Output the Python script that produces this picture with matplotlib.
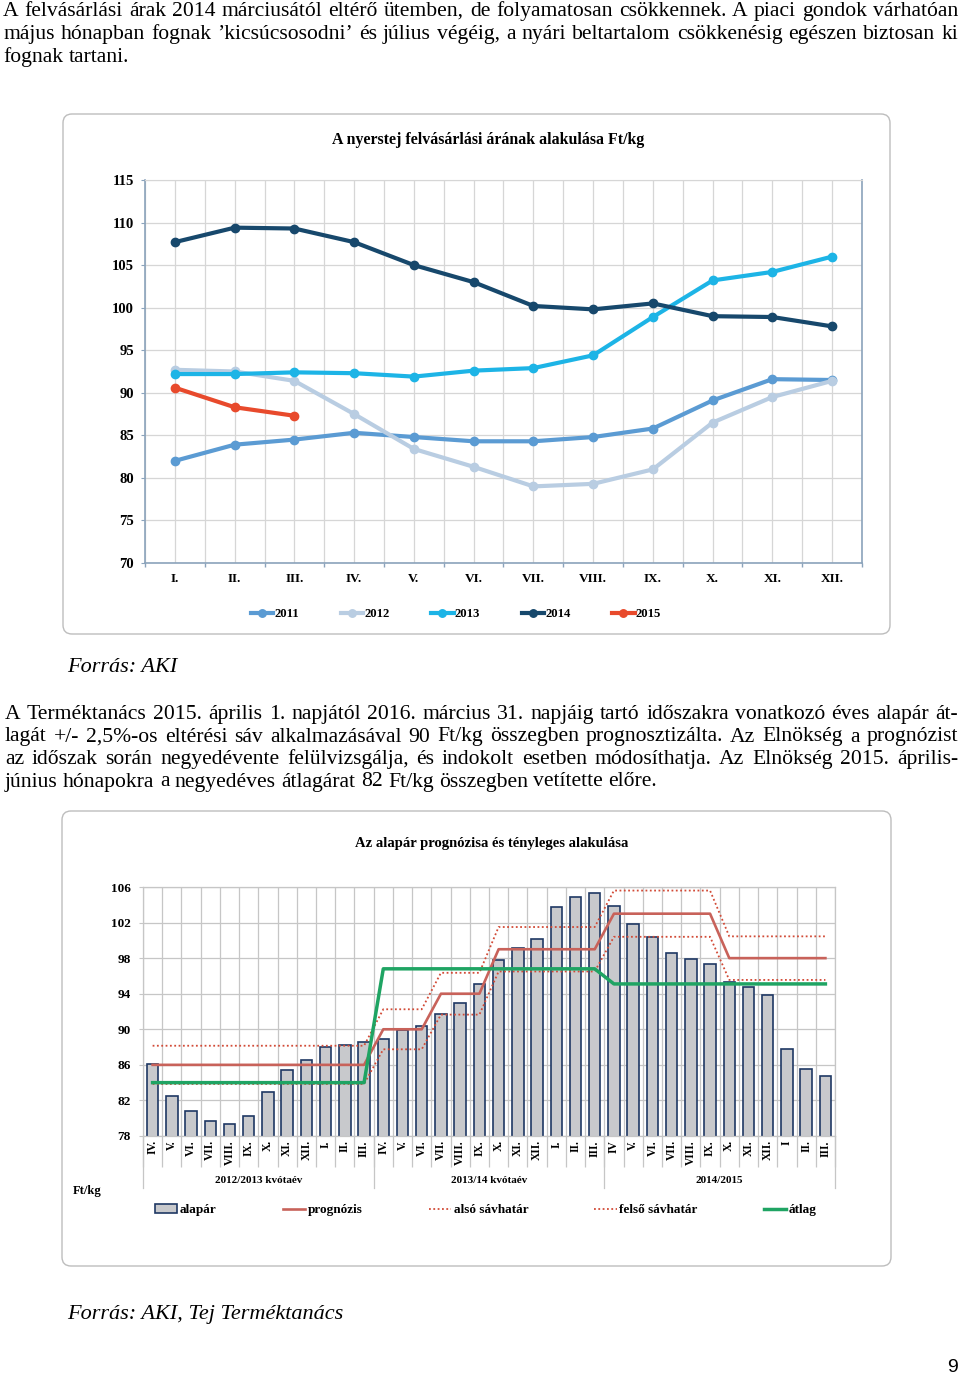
import numpy as np
import matplotlib
matplotlib.use('Agg')
import matplotlib.pyplot as plt
from matplotlib.patches import FancyBboxPatch
from matplotlib.transforms import IdentityTransform

plt.rcParams['font.family'] = ['Liberation Serif', 'DejaVu Serif']

# ---- chart 1: nyerstej felvásárlási ár, Ft/kg
months1 = ['I.', 'II.', 'III.', 'IV.', 'V.', 'VI.', 'VII.', 'VIII.', 'IX.', 'X.', 'XI.', 'XII.']
p2011 = [82.0, 83.9, 84.5, 85.3, 84.8, 84.3, 84.3, 84.8, 85.8, 89.1, 91.6, 91.5]
p2012 = [92.7, 92.5, 91.4, 87.5, 83.4, 81.3, 79.0, 79.3, 81.0, 86.5, 89.5, 91.4]
p2013 = [92.2, 92.2, 92.4, 92.3, 91.9, 92.6, 92.9, 94.4, 98.9, 103.2, 104.2, 106.0]
p2014 = [107.7, 109.4, 109.3, 107.7, 105.0, 103.0, 100.2, 99.8, 100.5, 99.0, 98.9, 97.8]
p2015 = [90.6, 88.3, 87.3]
years = ['2011', '2012', '2013', '2014', '2015']

# ---- chart 2: alapár prognózisa
months2 = ['IV.', 'V.', 'VI.', 'VII.', 'VIII.', 'IX.', 'X.', 'XI.', 'XII.', 'I.', 'II.', 'III.',
           'IV.', 'V.', 'VI.', 'VII.', 'VIII.', 'IX.', 'X.', 'XI.', 'XII.', 'I.', 'II.', 'III.',
           'IV', 'V.', 'VI.', 'VII.', 'VIII.', 'IX.', 'X.', 'XI.', 'XII.', 'I', 'II.', 'III.']
groups = ['2012/2013 kvótaév', '2013/14 kvótaév', '2014/2015']
group_sizes = [12, 12, 12]
alapar = [86.1, 82.5, 80.8, 79.7, 79.4, 80.2, 82.9, 85.4, 86.5, 88.0, 88.2, 88.6,
          88.9, 89.9, 90.4, 91.7, 93.0, 95.1, 97.8, 99.1, 100.2, 103.8, 104.9, 105.3,
          103.9, 101.8, 100.4, 98.6, 97.9, 97.3, 95.3, 94.7, 93.8, 87.8, 85.5, 84.7]
prognozis = [86, 86, 86, 86, 86, 86, 86, 86, 86, 86, 86, 86,
             90, 90, 90, 94, 94, 94, 99, 99, 99, 99, 99, 99,
             103, 103, 103, 103, 103, 103, 98, 98, 98, 98, 98, 98]
also_sav = [83.85, 83.85, 83.85, 83.85, 83.85, 83.85, 83.85, 83.85, 83.85, 83.85, 83.85, 83.85,
            87.75, 87.75, 87.75, 91.65, 91.65, 91.65, 96.5, 96.5, 96.5, 96.5, 96.5, 96.5,
            100.4, 100.4, 100.4, 100.4, 100.4, 100.4, 95.55, 95.55, 95.55, 95.55, 95.55, 95.55]
felso_sav = [88.15, 88.15, 88.15, 88.15, 88.15, 88.15, 88.15, 88.15, 88.15, 88.15, 88.15, 88.15,
             92.25, 92.25, 92.25, 96.35, 96.35, 96.35, 101.5, 101.5, 101.5, 101.5, 101.5, 101.5,
             105.6, 105.6, 105.6, 105.6, 105.6, 105.6, 100.45, 100.45, 100.45, 100.45, 100.45, 100.45]
atlag = [84, 84, 84, 84, 84, 84, 84, 84, 84, 84, 84, 84,
         96.8, 96.8, 96.8, 96.8, 96.8, 96.8, 96.8, 96.8, 96.8, 96.8, 96.8, 96.8,
         95.1, 95.1, 95.1, 95.1, 95.1, 95.1, 95.1, 95.1, 95.1, 95.1, 95.1, 95.1]

para1 = ['A felvásárlási árak 2014 márciusától eltérő ütemben, de folyamatosan csökkennek. A piaci gondok várhatóan',
         'május hónapban fognak ’kicsúcsosodni’ és július végéig, a nyári beltartalom csökkenésig egészen biztosan ki',
         'fognak tartani.']
para2 = ['A Terméktanács 2015. április 1. napjától 2016. március 31. napjáig tartó időszakra vonatkozó éves alapár át-',
         'lagát +/- 2,5%-os eltérési sáv alkalmazásával 90 Ft/kg összegben prognosztizálta. Az Elnökség a prognózist',
         'az időszak során negyedévente felülvizsgálja, és indokolt esetben módosíthatja. Az Elnökség 2015. április-',
         'június hónapokra a negyedéves átlagárat 82 Ft/kg összegben vetítette előre.']

W, H = 960, 1378
fig = plt.figure(figsize=(W / 100, H / 100), dpi=100)
fig.patch.set_facecolor('white')


def fx(x):
    return x / W


def fy(y):
    return 1 - y / H


def frame(x0, y0, x1, y1):
    p = FancyBboxPatch((x0, H - y1), x1 - x0, y1 - y0, boxstyle='round,pad=0,rounding_size=9',
                       transform=IdentityTransform(), fc='white', ec='#bdbdbd', lw=1.0, zorder=-5)
    fig.add_artist(p)


def justify(lines, x0, x1, base0, dy, size):
    r = fig.canvas.get_renderer()
    space = size * 100 / 72 * 0.25
    for i, line in enumerate(lines):
        words = line.split(' ')
        ts = [fig.text(0, fy(base0 + i * dy), w, fontsize=size, va='baseline', ha='left') for w in words]
        ws = [t.get_window_extent(r).width for t in ts]
        if i == len(lines) - 1:
            gap = space
        else:
            gap = (x1 - x0 - sum(ws)) / (len(words) - 1)
        x = x0
        for t, w in zip(ts, ws):
            t.set_x(fx(x))
            x += w + gap


justify(para1, 3, 958, 16, 23, 15.6)
justify(para2, 5, 958, 719, 22.5, 15.6)

# ---------------- chart 1
frame(63, 114, 890, 634)
fig.text(fx(488), fy(140), 'A nyerstej felvásárlási árának alakulása Ft/kg', ha='center', va='center',
         fontsize=11.4, fontweight='bold')
axis_c = '#8ba3bb'
ax1 = fig.add_axes([fx(145), fy(563), (862 - 145) / W, (563 - 180) / H])
x1 = np.arange(len(months1))
colors = ['#5b9bd3', '#b9cde2', '#1db4e6', '#17486c', '#e84a2c']
for name, vals, c in zip(years, [p2011, p2012, p2013, p2014, p2015], colors):
    ax1.plot(x1[:len(vals)], vals, color=c, lw=3, marker='o', ms=6, label=name)
ax1.set_xlim(-0.5, 11.5)
ax1.set_ylim(70, 115)
ax1.set_yticks(np.arange(70, 116, 5))
ax1.set_xticks(x1)
ax1.set_xticklabels(months1)
ax1.set_xticks(np.arange(-0.5, 12, 1), minor=True)
ax1.set_axisbelow(True)
ax1.grid(which='both', color='#d6d6d6', lw=0.9)
ax1.tick_params(axis='x', which='major', length=0, pad=7, labelsize=9.5)
ax1.tick_params(axis='x', which='minor', length=3, color=axis_c, width=1)
ax1.tick_params(axis='y', length=3, color=axis_c, pad=5, labelsize=10.5)
for t in ax1.get_xticklabels() + ax1.get_yticklabels():
    t.set_fontweight('bold')
for s in ['left', 'bottom', 'right']:
    ax1.spines[s].set_color(axis_c)
    ax1.spines[s].set_linewidth(1.2)
ax1.spines['top'].set_color('#d6d6d6')
ax1.legend(loc='center left', bbox_to_anchor=(fx(251), fy(614)), bbox_transform=fig.transFigure,
           ncol=5, frameon=False, prop={'weight': 'bold', 'size': 9.2}, handlelength=1.75,
           handletextpad=0.1, columnspacing=3.25, borderaxespad=0, borderpad=0, markerscale=0.9)

fig.text(fx(67), fy(668), 'Forrás: AKI', fontsize=16, style='italic', va='center', ha='left')

# ---------------- chart 2
frame(62, 811, 891, 1266)
fig.text(fx(492), fy(843), 'Az alapár prognózisa és tényleges alakulása', ha='center', va='center',
         fontsize=10.5, fontweight='bold')
grid_c = '#c6c6c6'
ax2 = fig.add_axes([fx(143), fy(1136), (835 - 143) / W, (1136 - 887) / H])
x2 = np.arange(len(months2))
ax2.bar(x2, alapar, width=0.6, color='#c8c9cc', edgecolor='#1f3864', lw=1.2, label='alapár', zorder=2)
ax2.plot(x2, prognozis, color='#c8625a', lw=1.9, label='prognózis', zorder=3)
ax2.plot(x2, also_sav, color='#d24b37', lw=1.3, ls=(0, (1, 1.4)), label='alsó sávhatár', zorder=3)
ax2.plot(x2, felso_sav, color='#d24b37', lw=1.3, ls=(0, (1, 1.4)), label='felső sávhatár', zorder=3)
ax2.plot(x2, atlag, color='#1fa463', lw=2.5, label='átlag', zorder=4)
ax2.set_xlim(-0.5, len(months2) - 0.5)
ax2.set_ylim(78, 106)
ax2.set_yticks(np.arange(78, 107, 4))
ax2.set_xticks(x2)
ax2.set_xticklabels(months2, rotation=90, va='top', ha='center')
ax2.set_xticks(np.arange(-0.5, len(months2), 1), minor=True)
ax2.set_axisbelow(True)
ax2.grid(axis='y', which='major', color=grid_c, lw=0.9, zorder=0)
ax2.grid(axis='x', which='minor', color=grid_c, lw=0.9, zorder=0)
ax2.tick_params(axis='x', which='major', length=0, pad=3, labelsize=8.3)
ax2.tick_params(axis='x', which='minor', length=22, color=grid_c, width=0.9)
ax2.tick_params(axis='y', length=3, color=grid_c, pad=6, labelsize=9.5)
for t in ax2.get_xticklabels() + ax2.get_yticklabels():
    t.set_fontweight('bold')
for s in ax2.spines.values():
    s.set_color(grid_c)
    s.set_linewidth(0.9)

bounds = np.cumsum([0] + group_sizes) - 0.5
xt = ax2.get_xaxis_transform()
for b in bounds:
    ax2.plot([b, b], [0, -0.21], transform=xt, color=grid_c, lw=0.9, clip_on=False)
for g, a, b in zip(groups, bounds[:-1], bounds[1:]):
    ax2.text((a + b) / 2, -0.18, g, transform=xt, ha='center', va='center', fontsize=8, fontweight='bold')
fig.text(fx(73), fy(1191), 'Ft/kg', fontsize=9, fontweight='bold', va='center', ha='left')

h, l = ax2.get_legend_handles_labels()
order = [l.index(n) for n in ['alapár', 'prognózis', 'alsó sávhatár', 'felső sávhatár', 'átlag']]
ax2.legend([h[i] for i in order], [l[i] for i in order], loc='center left',
           bbox_to_anchor=(fx(155), fy(1210)), bbox_transform=fig.transFigure,
           ncol=5, frameon=False, prop={'weight': 'bold', 'size': 9.5}, handlelength=1.7,
           handletextpad=0.2, columnspacing=5.0, borderaxespad=0, borderpad=0)

fig.text(fx(67), fy(1315), 'Forrás: AKI, Tej Terméktanács', fontsize=16, style='italic', va='center', ha='left')
fig.text(fx(953), fy(1368), '9', fontsize=14, family='Liberation Sans', va='center', ha='center')

fig.savefig('out.png', dpi=100)
